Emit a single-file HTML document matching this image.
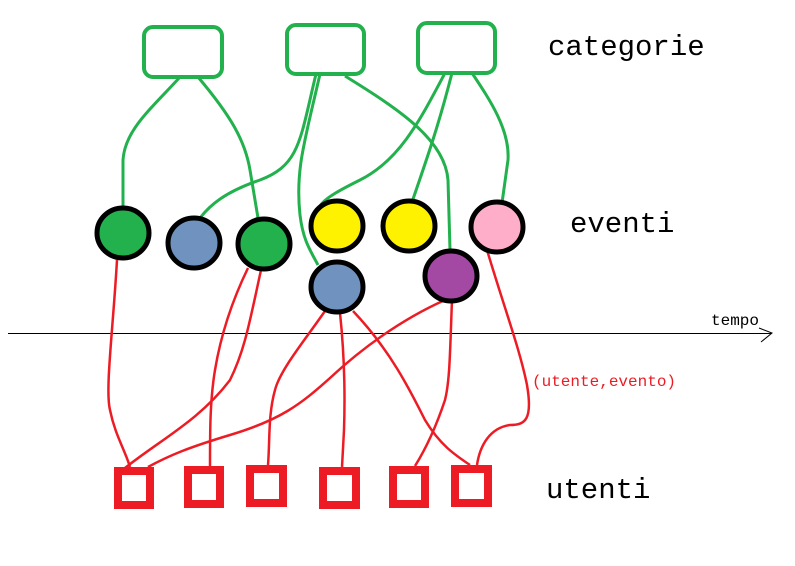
<!DOCTYPE html>
<html><head><meta charset="utf-8"><style>
html,body{margin:0;padding:0;background:#fff;width:795px;height:566px;overflow:hidden}
</style></head><body>
<svg width="795" height="566" viewBox="0 0 795 566" xmlns="http://www.w3.org/2000/svg" style="display:block">
<rect width="795" height="566" fill="#fff"/>
<g fill="none" stroke="#22b14c" stroke-width="3">
<path d="M180 77 C150 110,125 130,123 160 L123 207"/>
<path d="M198 77 C230 115,245 140,250 170 L258 218"/>
<path d="M316 74 C300 140,300 165,260 180 C225 192,210 205,200 218"/>
<path d="M320 74 C305 140,295 170,300 215 C303 240,310 250,318 265"/>
<path d="M345 76 C400 110,445 140,448 180 L450 250"/>
<path d="M445 73 C420 120,400 160,360 180 C340 190,325 198,320 206"/>
<path d="M452 73 C440 120,430 150,412 202"/>
<path d="M472 73 C490 100,510 130,508 160 L502 203"/>
</g>
<g fill="#fff" stroke="#22b14c" stroke-width="4">
<rect x="144" y="27" width="78" height="50" rx="9"/>
<rect x="287" y="25" width="77" height="49" rx="9"/>
<rect x="418" y="23" width="77" height="50" rx="9"/>
</g>
<line x1="8" y1="333.5" x2="771" y2="333.5" stroke="#000" stroke-width="1" shape-rendering="crispEdges"/>
<path d="M759 328 L772 333 L761 342" fill="none" stroke="#000" stroke-width="1"/>
<g fill="none" stroke="#ed1c24" stroke-width="2.5">
<path d="M117 260 C113 330,105 390,110 410 C115 435,125 450,130 467"/>
<path d="M248 268 C230 305,220 340,215 370 C210 400,210 430,210 466"/>
<path d="M261 270 C250 320,245 350,230 380 C200 420,160 440,125 468"/>
<path d="M325 311 C305 340,280 370,275 390 C268 415,270 440,268 465"/>
<path d="M340 313 C345 360,345 400,344 430 L342 467"/>
<path d="M353 311 C390 350,410 390,425 420 C440 445,455 455,470 465"/>
<path d="M445 300 C400 320,360 350,330 378 C300 405,280 420,230 435 C190 447,170 455,148 467"/>
<path d="M452 300 C450 350,450 380,445 400 C435 430,425 450,415 466"/>
<path d="M487 250 C505 310,520 350,527 385 C533 420,525 425,510 425 C490 428,480 445,477 465"/>
</g>
<g stroke="#000" stroke-width="5">
<ellipse cx="123" cy="233" rx="26" ry="25" fill="#22b14c"/>
<ellipse cx="194" cy="243" rx="26" ry="25" fill="#7092be"/>
<ellipse cx="264" cy="244" rx="26" ry="25" fill="#22b14c"/>
<ellipse cx="337" cy="226" rx="26" ry="25" fill="#fff200"/>
<ellipse cx="409" cy="226" rx="26" ry="25" fill="#fff200"/>
<ellipse cx="497" cy="227" rx="26" ry="25" fill="#ffaec9"/>
<ellipse cx="337" cy="287" rx="26" ry="25" fill="#7092be"/>
<ellipse cx="451" cy="276" rx="26" ry="25" fill="#a349a4"/>
</g>
<g fill="none" stroke="#ed1c24" stroke-width="8">
<rect x="118" y="471" width="32" height="34"/>
<rect x="188" y="470" width="32" height="34"/>
<rect x="250" y="469" width="33" height="34"/>
<rect x="323" y="471" width="33" height="34"/>
<rect x="393" y="470" width="32" height="34"/>
<rect x="455" y="469" width="33" height="34"/>
</g>
<g font-family="Liberation Mono, monospace" fill="#000">
<text x="548" y="55" font-size="29">categorie</text>
<text x="570" y="232" font-size="29">eventi</text>
<text x="546" y="498" font-size="29">utenti</text>
<text x="711" y="325" font-size="16">tempo</text>
<text x="532" y="386" font-size="16" fill="#ed1c24">(utente,evento)</text>
</g>
</svg>
</body></html>
